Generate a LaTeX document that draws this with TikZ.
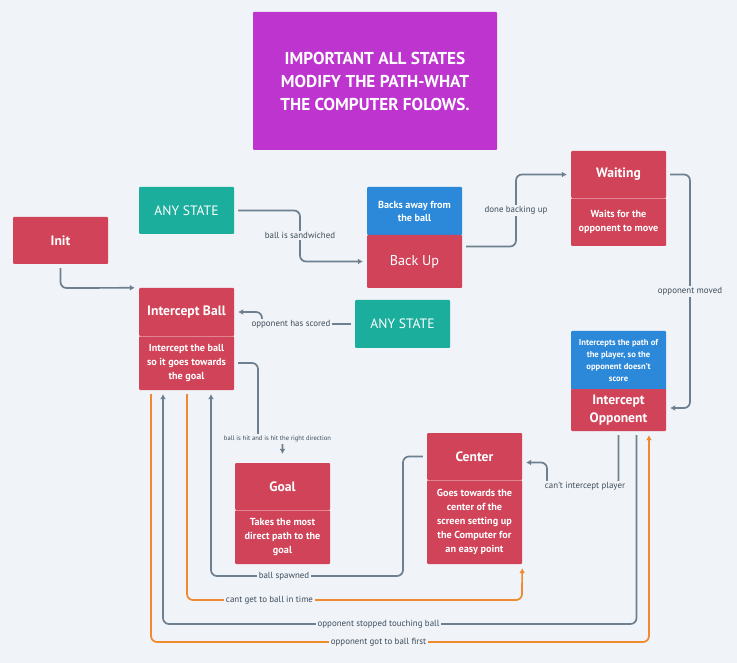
\documentclass[tikz,border=0pt]{standalone}
\usepackage{fontspec}
\setmainfont{PT Sans}
\usetikzlibrary{arrows.meta,calc}
\definecolor{bg}{HTML}{F0F3F7}
\definecolor{stred}{HTML}{D14358}
\definecolor{stteal}{HTML}{1BAE9D}
\definecolor{stblue}{HTML}{2C88D9}
\definecolor{stpurple}{HTML}{BD34CF}
\definecolor{connc}{HTML}{6E7F8F}
\definecolor{orng}{HTML}{F08A2E}
\definecolor{lbl}{HTML}{3E4C5A}
\tikzset{
  box/.style={rectangle, inner sep=2pt, text=white, align=center, minimum width=95pt, rounded corners=1pt},
  headf/.style={font=\bfseries\fontsize{13.6}{15}\selectfont},
  bodyf/.style={font=\bfseries\fontsize{10.2}{14}\selectfont},
  divider/.style={draw=white, opacity=0.35, line width=0.6pt},
  conn/.style={draw=connc, line width=1.7pt, rounded corners=6pt, shorten >=4pt, shorten <=4pt, -{Latex[length=5pt,width=6pt]}},
  oconn/.style={conn, draw=orng},
  lab/.style={fill=bg, text=lbl, inner sep=1.5pt, font=\fontsize{8.9}{10}\selectfont}
}
\begin{document}
\begin{tikzpicture}[x=1pt,y=-1pt]
\fill[bg] (0,0) rectangle (737,663);
\useasboundingbox (0,0) rectangle (737,663);

% title
\node[box, fill=stpurple, minimum width=244pt, minimum height=138pt, font=\bfseries\fontsize{17.2}{23}\selectfont] (title) at (375,81) {IMPORTANT ALL STATES\\MODIFY THE PATH-WHAT\\THE COMPUTER FOLOWS.};

% Init
\node[box, fill=stred, minimum height=47pt, headf] (init) at (60.5,240.5) {Init};

% Any state 1
\node[box, fill=stteal, minimum height=47pt, font=\fontsize{13.6}{15}\selectfont] (any1) at (186.5,210.5) {ANY STATE};

% Back up
\node[box, fill=stblue, minimum height=48pt, font=\bfseries\fontsize{10.2}{13}\selectfont] (backtxt) at (414.5,211) {Backs away from\\the ball};
\node[box, fill=stred, minimum height=53pt, font=\fontsize{14.2}{15}\selectfont] (backup) at (414.5,261.5) {Back Up};

% Waiting
\node[box, fill=stred, minimum height=47pt, headf] (waith) at (618.5,174.5) {Waiting};
\node[box, fill=stred, minimum height=48pt, bodyf] (waitb) at (618.5,222) {Waits for the\\opponent to move};
\draw[divider] (waith.south west) -- (waith.south east);

% Intercept ball
\node[box, fill=stred, minimum height=48pt, headf] (ibh) at (186.5,312) {Intercept Ball};
\node[box, fill=stred, minimum height=54pt, bodyf] (ibb) at (186.5,363) {Intercept the ball\\so it goes towards\\the goal};
\draw[divider] (ibh.south west) -- (ibh.south east);

% Any state 2
\node[box, fill=stteal, minimum height=48pt, font=\fontsize{13.6}{15}\selectfont] (any2) at (402.5,324) {ANY STATE};

% Intercept opponent
\node[box, fill=stblue, minimum height=59pt, font=\bfseries\fontsize{8.6}{12}\selectfont] (iotxt) at (618.5,360.5) {Intercepts the path of\\the player, so the\\opponent doesn't\\score};
\node[box, fill=stred, minimum height=42pt, font=\bfseries\fontsize{13.6}{18}\selectfont] (ioh) at (618.5,410) {Intercept\\Opponent};

% Goal
\node[box, fill=stred, minimum height=47pt, headf] (goalh) at (282.5,486.5) {Goal};
\node[box, fill=stred, minimum height=54pt, bodyf] (goalb) at (282.5,537) {Takes the most\\direct path to the\\goal};
\draw[divider] (goalh.south west) -- (goalh.south east);

% Center
\node[box, fill=stred, minimum height=47pt, headf] (centh) at (474.5,456.5) {Center};
\node[box, fill=stred, minimum height=84pt, bodyf] (centb) at (474.5,522) {Goes towards the\\center of the\\screen setting up\\the Computer for\\an easy point};
\draw[divider] (centh.south west) -- (centh.south east);

% connectors
\draw[conn] (init.south) -- (60.5,288) -- (ibh.north west);

\draw[conn] (any1.east) -- (300,210.5) -- (300,261.5) -- (backup.west);
\node[lab] (l1) at (300,235.5) {ball is sandwiched};

\draw[conn] ([yshift=15pt]backup.east) -- (516,246.5) -- (516,174.5) -- (waith.west);
\node[lab] (l2) at (516,210.5) {done backing up};

\draw[conn] (waith.east) -- (690,174.5) -- (690,408) -- ([yshift=2pt]ioh.east);
\node[lab] (l3) at (690,291.5) {opponent moved};

\draw[conn] (any2.west) -- (262,324) -- (262,312) -- (ibh.east);
\node[lab] (l4) at (291,324.5) {opponent has scored};

\draw[conn, shorten >=9pt] (ibb.east) -- (258,363) -- (258,439) -- (282.5,439) -- (goalh.north);
\node[lab, font=\fontsize{6.6}{8}\selectfont] (l5) at (277.5,439) {ball is hit and is hit the right direction};

\draw[conn] (centh.west) -- (403,456.5) -- (403,576) -- (211,576) -- ([xshift=24.5pt]ibb.south);
\node[lab] (l6) at (284,576.5) {ball spawned};

\draw[oconn] ([xshift=0.5pt]ibb.south) -- (187,600) -- (522,600) -- (centb.south east);
\node[lab] (l7) at (269.5,600.5) {cant get to ball in time};

\draw[conn] ([xshift=18pt]ioh.south) -- (636.5,624) -- (163,624) -- ([xshift=-23.5pt]ibb.south);
\node[lab] (l8) at (378.5,624.5) {opponent stopped touching ball};

\draw[oconn] ([xshift=-35.5pt]ibb.south) -- (151,642) -- (649,642) -- ([xshift=30.5pt]ioh.south);
\node[lab] (l9) at (378.5,642.5) {opponent got to ball first};

\draw[conn] (ioh.south) -- (618.5,486) -- (547,486) -- (547,462.5) -- ([yshift=-6pt]centh.east);
\node[lab] (l10) at (585,486.5) {can't intercept player};
\end{tikzpicture}
\end{document}
